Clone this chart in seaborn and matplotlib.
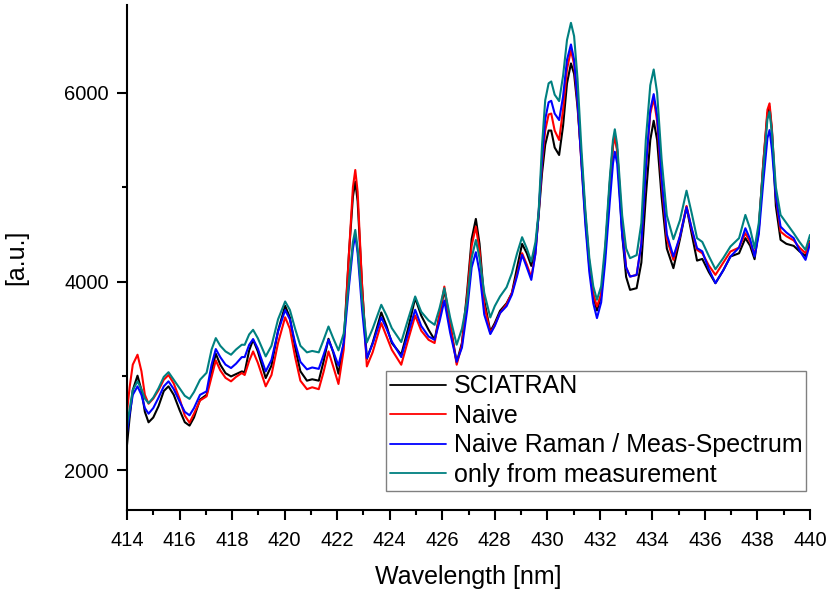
import numpy as np
import pandas as pd
import matplotlib
matplotlib.use("Agg")
import matplotlib.pyplot as plt
from matplotlib.ticker import MultipleLocator
import seaborn as sns

# Wavelength sampling points [nm]
wavelength = [
    414.00, 414.10, 414.22, 414.40, 414.55, 414.68, 414.82, 415.00, 415.20, 415.40,
    415.58, 415.78, 416.00, 416.20, 416.38, 416.55, 416.78, 417.03, 417.22, 417.38,
    417.55, 417.75, 417.96, 418.15, 418.37, 418.48, 418.65, 418.80, 418.98, 419.28,
    419.50, 419.75, 420.02, 420.20, 420.40, 420.60, 420.85, 421.05, 421.30, 421.48,
    421.67, 421.85, 422.05, 422.25, 422.45, 422.60, 422.69, 422.78, 422.95, 423.13,
    423.35, 423.68, 423.88, 424.08, 424.44, 424.70, 424.97, 425.20, 425.48, 425.71,
    425.90, 426.08, 426.30, 426.55, 426.75, 426.95, 427.12, 427.28, 427.42, 427.60,
    427.83, 428.00, 428.20, 428.45, 428.65, 428.85, 429.04, 429.22, 429.39, 429.55,
    429.67, 429.80, 429.92, 430.05, 430.15, 430.28, 430.45, 430.60, 430.75, 430.90,
    431.02, 431.15, 431.30, 431.45, 431.60, 431.75, 431.89, 432.05, 432.20, 432.38,
    432.50, 432.57, 432.66, 432.85, 433.00, 433.15, 433.40, 433.58, 433.75, 433.92,
    434.05, 434.18, 434.35, 434.55, 434.80, 435.05, 435.30, 435.50, 435.70, 435.90,
    436.15, 436.40, 436.70, 436.97, 437.30, 437.54, 437.72, 437.89, 438.05, 438.22,
    438.38, 438.46, 438.55, 438.70, 438.88, 439.10, 439.38, 439.60, 439.83, 440.00,
]

sciatran = [
    2270, 2560, 2850, 3003, 2850, 2620, 2509, 2560, 2680, 2840,
    2890, 2800, 2640, 2510, 2474, 2560, 2750, 2800, 3050, 3235,
    3120, 3030, 2995, 3020, 3048, 3040, 3270, 3383, 3260, 2978,
    3110, 3480, 3743, 3620, 3300, 3050, 2950, 2965, 2950, 3150,
    3394, 3250, 3024, 3350, 4300, 4900, 5058, 4850, 3950, 3179,
    3350, 3673, 3530, 3349, 3225, 3500, 3825, 3640, 3489, 3383,
    3650, 3912, 3550, 3143, 3350, 3900, 4450, 4664, 4400, 3800,
    3471, 3560, 3690, 3770, 3878, 4150, 4399, 4300, 4166, 4350,
    4700, 5150, 5450, 5600, 5600, 5420, 5341, 5650, 6100, 6311,
    6200, 5850, 5300, 4700, 4200, 3850, 3694, 3850, 4300, 5050,
    5450, 5553, 5400, 4500, 4050, 3912, 3930, 4200, 4900, 5500,
    5704, 5500, 4900, 4350, 4142, 4450, 4790, 4500, 4222, 4240,
    4100, 3983, 4120, 4265, 4300, 4460, 4380, 4237, 4550, 5250,
    5780, 5850, 5600, 4800, 4442, 4400, 4378, 4320, 4270, 4430,
]

naive = [
    2620, 2880, 3120, 3225, 3050, 2800, 2706, 2760, 2850, 2960,
    3010, 2920, 2760, 2580, 2505, 2600, 2740, 2784, 2990, 3165,
    3060, 2980, 2943, 2990, 3031, 3010, 3160, 3260, 3140, 2890,
    3010, 3350, 3622, 3500, 3200, 2950, 2860, 2880, 2860, 3040,
    3260, 3100, 2915, 3280, 4300, 5000, 5182, 4950, 3950, 3101,
    3250, 3560, 3420, 3278, 3119, 3380, 3641, 3480, 3383, 3349,
    3650, 3947, 3550, 3119, 3330, 3850, 4380, 4582, 4330, 3750,
    3454, 3540, 3666, 3760, 3878, 4080, 4301, 4180, 4047, 4300,
    4724, 5250, 5600, 5770, 5780, 5600, 5500, 5820, 6250, 6452,
    6300, 5900, 5250, 4650, 4150, 3870, 3736, 3870, 4300, 5000,
    5430, 5540, 5380, 4600, 4150, 4053, 4070, 4400, 5200, 5780,
    5940, 5700, 5050, 4450, 4230, 4480, 4801, 4550, 4336, 4300,
    4170, 4071, 4200, 4318, 4360, 4512, 4420, 4283, 4560, 5250,
    5820, 5888, 5620, 4900, 4529, 4480, 4436, 4360, 4300, 4420,
]

naive_raman = [
    2400, 2600, 2800, 2890, 2800, 2660, 2600, 2660, 2770, 2890,
    2943, 2860, 2730, 2620, 2583, 2660, 2800, 2837, 3120, 3285,
    3200, 3120, 3084, 3130, 3200, 3200, 3330, 3391, 3290, 3048,
    3170, 3470, 3698, 3600, 3350, 3150, 3070, 3090, 3075, 3220,
    3383, 3260, 3109, 3350, 3950, 4350, 4494, 4300, 3700, 3190,
    3340, 3620, 3500, 3366, 3200, 3450, 3701, 3530, 3418, 3383,
    3580, 3799, 3460, 3150, 3300, 3700, 4150, 4311, 4100, 3650,
    3444, 3530, 3666, 3740, 3860, 4060, 4283, 4150, 4018, 4300,
    4724, 5300, 5720, 5900, 5915, 5780, 5711, 5960, 6350, 6512,
    6350, 5920, 5250, 4600, 4100, 3770, 3613, 3780, 4200, 4850,
    5250, 5376, 5250, 4500, 4150, 4053, 4070, 4400, 5200, 5820,
    5986, 5760, 5100, 4500, 4265, 4480, 4787, 4560, 4354, 4320,
    4130, 3983, 4120, 4265, 4360, 4565, 4450, 4265, 4500, 5050,
    5520, 5605, 5400, 4900, 4582, 4520, 4460, 4330, 4230, 4400,
]

measurement = [
    2470, 2650, 2850, 2943, 2860, 2760, 2712, 2770, 2870, 2990,
    3040, 2960, 2870, 2790, 2757, 2830, 2960, 3034, 3280, 3401,
    3320, 3260, 3225, 3280, 3331, 3330, 3440, 3489, 3400, 3207,
    3320, 3600, 3789, 3700, 3500, 3320, 3250, 3265, 3250, 3380,
    3524, 3400, 3271, 3450, 4000, 4420, 4547, 4350, 3800, 3355,
    3500, 3754, 3640, 3507, 3359, 3600, 3842, 3680, 3588, 3542,
    3720, 3930, 3620, 3331, 3500, 3800, 4250, 4441, 4250, 3880,
    3620, 3740, 3842, 3940, 4089, 4300, 4470, 4350, 4212, 4420,
    4740, 5450, 5920, 6100, 6120, 5980, 5912, 6180, 6560, 6741,
    6600, 6150, 5400, 4750, 4250, 3950, 3807, 3950, 4380, 5100,
    5500, 5613, 5450, 4700, 4350, 4248, 4280, 4620, 5500, 6080,
    6247, 6000, 5300, 4700, 4449, 4650, 4963, 4720, 4460, 4420,
    4270, 4131, 4250, 4371, 4460, 4706, 4560, 4354, 4620, 5200,
    5720, 5799, 5580, 5000, 4706, 4620, 4512, 4420, 4336, 4494,
]

labels = ["SCIATRAN", "Naive", "Naive Raman / Meas-Spectrum", "only from measurement"]
colors = ["#000000", "#ff0000", "#0000ff", "#008080"]

frames = []
for name, vals in zip(labels, [sciatran, naive, naive_raman, measurement]):
    frames.append(pd.DataFrame({"Wavelength": wavelength, "Intensity": vals, "Series": name}))
df = pd.concat(frames, ignore_index=True)

sns.set_theme(style="ticks")
plt.rcParams["font.family"] = ["Liberation Sans", "DejaVu Sans"]
plt.rcParams["text.color"] = "black"
plt.rcParams["axes.labelcolor"] = "black"

fig = plt.figure(figsize=(8.27, 5.90), dpi=100)
ax = fig.add_axes([127 / 827, 1 - 510 / 590, (810 - 127) / 827, (510 - 5) / 590])

sns.lineplot(
    data=df, x="Wavelength", y="Intensity", hue="Series",
    hue_order=labels, palette=colors, estimator=None, sort=True,
    linewidth=1.5, ax=ax,
)

ax.set_xlim(414, 440)
ax.set_ylim(1580, 6930)
ax.xaxis.set_major_locator(MultipleLocator(2))
ax.xaxis.set_minor_locator(MultipleLocator(1))
ax.yaxis.set_major_locator(MultipleLocator(2000))
ax.yaxis.set_minor_locator(MultipleLocator(1000))

for side in ["top", "right"]:
    ax.spines[side].set_visible(False)
for side in ["left", "bottom"]:
    ax.spines[side].set_linewidth(1.5)
    ax.spines[side].set_color("black")

ax.tick_params(axis="both", which="major", direction="out", length=7, width=1.5,
               labelsize=14.5, colors="black")
ax.tick_params(axis="x", which="major", pad=8)
ax.tick_params(axis="y", which="major", pad=6)
ax.tick_params(axis="both", which="minor", direction="out", length=3.5, width=1.5,
               colors="black")

ax.set_xlabel("Wavelength [nm]", fontsize=18, labelpad=11, color="black")
ax.set_ylabel("[a.u.]", fontsize=18, labelpad=26, color="black")

leg = ax.legend(
    loc="upper left", bbox_to_anchor=((386 - 127) / 683, (510 - 370.7) / 505),
    borderaxespad=0, fontsize=18, frameon=True, fancybox=False,
    handlelength=2.25, handletextpad=0.3, borderpad=0.15, labelspacing=0.22,
    title=None,
)
leg.get_frame().set_edgecolor("#808080")
leg.get_frame().set_linewidth(1.0)
leg.get_frame().set_alpha(1)
for text in leg.get_texts():
    text.set_color("black")
for line in leg.get_lines():
    line.set_linewidth(1.3)

fig.savefig("out.png", dpi=100)
